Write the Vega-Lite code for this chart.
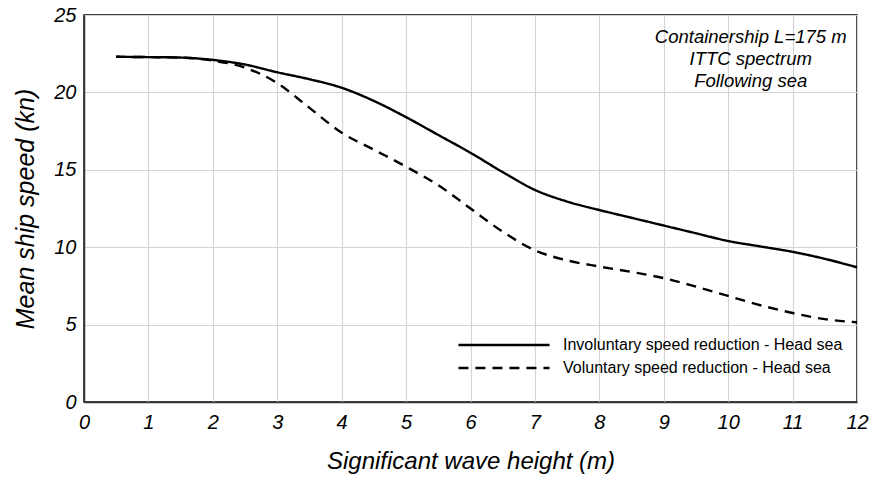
{
  "$schema": "https://vega.github.io/schema/vega-lite/v6.json",
  "width": 773,
  "height": 387,
  "autosize": "none",
  "padding": {"left": 84, "top": 15, "right": 15, "bottom": 77},
  "background": "white",
  "config": {
    "font": "Liberation Sans",
    "view": {"stroke": "black", "strokeWidth": 1.5},
    "axis": {
      "gridColor": "#d4d4d4",
      "gridWidth": 1.2,
      "domainColor": "#333",
      "domainWidth": 1.5,
      "tickColor": "#888",
      "labelFont": "Liberation Sans",
      "labelFontStyle": "italic",
      "labelFontSize": 20,
      "labelColor": "black",
      "titleFont": "Liberation Sans",
      "titleFontStyle": "italic",
      "titleFontWeight": "normal",
      "titleColor": "black"
    }
  },
  "datasets": {
    "curves": [
      {"h": 0.5, "speed": 22.3, "series": "Involuntary speed reduction - Head sea"},
      {"h": 1.0, "speed": 22.28, "series": "Involuntary speed reduction - Head sea"},
      {"h": 1.5, "speed": 22.25, "series": "Involuntary speed reduction - Head sea"},
      {"h": 2.0, "speed": 22.1, "series": "Involuntary speed reduction - Head sea"},
      {"h": 2.5, "speed": 21.8, "series": "Involuntary speed reduction - Head sea"},
      {"h": 3.0, "speed": 21.3, "series": "Involuntary speed reduction - Head sea"},
      {"h": 3.5, "speed": 20.85, "series": "Involuntary speed reduction - Head sea"},
      {"h": 4.0, "speed": 20.3, "series": "Involuntary speed reduction - Head sea"},
      {"h": 4.5, "speed": 19.45, "series": "Involuntary speed reduction - Head sea"},
      {"h": 5.0, "speed": 18.4, "series": "Involuntary speed reduction - Head sea"},
      {"h": 5.5, "speed": 17.25, "series": "Involuntary speed reduction - Head sea"},
      {"h": 6.0, "speed": 16.1, "series": "Involuntary speed reduction - Head sea"},
      {"h": 6.5, "speed": 14.85, "series": "Involuntary speed reduction - Head sea"},
      {"h": 7.0, "speed": 13.7, "series": "Involuntary speed reduction - Head sea"},
      {"h": 7.5, "speed": 12.95, "series": "Involuntary speed reduction - Head sea"},
      {"h": 8.0, "speed": 12.4, "series": "Involuntary speed reduction - Head sea"},
      {"h": 8.5, "speed": 11.9, "series": "Involuntary speed reduction - Head sea"},
      {"h": 9.0, "speed": 11.4, "series": "Involuntary speed reduction - Head sea"},
      {"h": 9.5, "speed": 10.9, "series": "Involuntary speed reduction - Head sea"},
      {"h": 10.0, "speed": 10.4, "series": "Involuntary speed reduction - Head sea"},
      {"h": 10.5, "speed": 10.05, "series": "Involuntary speed reduction - Head sea"},
      {"h": 11.0, "speed": 9.7, "series": "Involuntary speed reduction - Head sea"},
      {"h": 11.5, "speed": 9.25, "series": "Involuntary speed reduction - Head sea"},
      {"h": 12.0, "speed": 8.7, "series": "Involuntary speed reduction - Head sea"},
      {"h": 0.5, "speed": 22.3, "series": "Voluntary speed reduction - Head sea"},
      {"h": 1.0, "speed": 22.28, "series": "Voluntary speed reduction - Head sea"},
      {"h": 1.5, "speed": 22.25, "series": "Voluntary speed reduction - Head sea"},
      {"h": 2.0, "speed": 22.05, "series": "Voluntary speed reduction - Head sea"},
      {"h": 2.5, "speed": 21.6, "series": "Voluntary speed reduction - Head sea"},
      {"h": 3.0, "speed": 20.6, "series": "Voluntary speed reduction - Head sea"},
      {"h": 3.5, "speed": 19.0, "series": "Voluntary speed reduction - Head sea"},
      {"h": 4.0, "speed": 17.4, "series": "Voluntary speed reduction - Head sea"},
      {"h": 4.5, "speed": 16.3, "series": "Voluntary speed reduction - Head sea"},
      {"h": 5.0, "speed": 15.2, "series": "Voluntary speed reduction - Head sea"},
      {"h": 5.5, "speed": 14.0, "series": "Voluntary speed reduction - Head sea"},
      {"h": 6.0, "speed": 12.5, "series": "Voluntary speed reduction - Head sea"},
      {"h": 6.5, "speed": 11.0, "series": "Voluntary speed reduction - Head sea"},
      {"h": 7.0, "speed": 9.8, "series": "Voluntary speed reduction - Head sea"},
      {"h": 7.5, "speed": 9.15, "series": "Voluntary speed reduction - Head sea"},
      {"h": 8.0, "speed": 8.75, "series": "Voluntary speed reduction - Head sea"},
      {"h": 8.5, "speed": 8.4, "series": "Voluntary speed reduction - Head sea"},
      {"h": 9.0, "speed": 8.0, "series": "Voluntary speed reduction - Head sea"},
      {"h": 9.5, "speed": 7.45, "series": "Voluntary speed reduction - Head sea"},
      {"h": 10.0, "speed": 6.85, "series": "Voluntary speed reduction - Head sea"},
      {"h": 10.5, "speed": 6.25, "series": "Voluntary speed reduction - Head sea"},
      {"h": 11.0, "speed": 5.75, "series": "Voluntary speed reduction - Head sea"},
      {"h": 11.5, "speed": 5.35, "series": "Voluntary speed reduction - Head sea"},
      {"h": 12.0, "speed": 5.15, "series": "Voluntary speed reduction - Head sea"}
    ],
    "notes": [
      {"h": 10.35, "speed": 23.55, "text": "Containership L=175 m"},
      {"h": 10.35, "speed": 22.15, "text": "ITTC spectrum"},
      {"h": 10.35, "speed": 20.75, "text": "Following sea"}
    ]
  },
  "layer": [
    {
      "data": {"name": "curves"},
      "mark": {"type": "line", "color": "black", "strokeWidth": 2.4, "interpolate": "monotone"},
      "encoding": {
        "x": {
          "field": "h", "type": "quantitative",
          "scale": {"domain": [0, 12], "nice": false},
          "axis": {"values": [0,1,2,3,4,5,6,7,8,9,10,11,12], "format": "d", "title": "Significant wave height (m)", "titleFontSize": 24, "titlePadding": 17, "labelPadding": 10, "tickSize": 0, "labelFlush": false}
        },
        "y": {
          "field": "speed", "type": "quantitative",
          "scale": {"domain": [0, 25], "nice": false},
          "axis": {"values": [0,2.5,5,7.5,10,12.5,15,17.5,20,22.5,25], "labelExpr": "datum.value % 5 == 0 ? datum.label : ''", "title": "Mean ship speed  (kn)", "titleFontSize": 25, "titlePadding": 15, "labelPadding": 8, "tickSize": 0, "labelFlush": false}
        },
        "strokeDash": {
          "field": "series", "type": "nominal",
          "scale": {"domain": ["Involuntary speed reduction - Head sea", "Voluntary speed reduction - Head sea"], "range": [[1, 0], [10, 7]]},
          "legend": {
            "title": null,
            "orient": "none",
            "direction": "vertical",
            "legendX": 373,
            "legendY": 322,
            "symbolType": "stroke",
            "symbolSize": 8300,
            "symbolStrokeWidth": 2.4,
            "symbolStrokeColor": "black",
            "clipHeight": 16,
            "rowPadding": 7,
            "labelFontSize": 16,
            "labelLimit": 500,
            "labelFont": "Liberation Sans",
            "labelColor": "black",
            "labelOffset": 12
          }
        }
      }
    },
    {
      "data": {"name": "notes"},
      "mark": {"type": "text", "fontSize": 18.5, "fontStyle": "italic", "font": "Liberation Sans", "align": "center", "baseline": "middle", "color": "black"},
      "encoding": {
        "x": {"field": "h", "type": "quantitative"},
        "y": {"field": "speed", "type": "quantitative"},
        "text": {"field": "text"}
      }
    }
  ]
}
